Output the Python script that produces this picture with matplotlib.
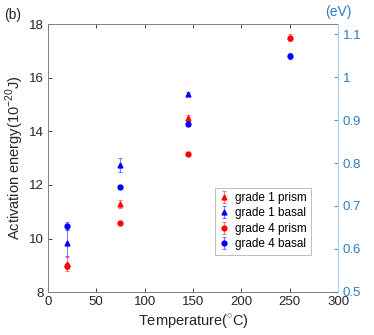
import numpy as np
from matplotlib import pyplot as plt

### DATA
temps_g1 = [20, 75, 145]
temps_g4 = [20, 75, 145, 250]

g1_prism = [9.05, 11.3, 14.5]
g1_prism_err = [0.25, 0.15, 0.1]
g1_basal = [9.85, 12.75, 15.4]
g1_basal_err = [0.5, 0.25, 0.08]
g4_prism = [8.97, 10.58, 13.15, 17.5]
g4_prism_err = [0.1, 0.05, 0.03, 0.12]
g4_basal = [10.48, 11.93, 14.28, 16.8]
g4_basal_err = [0.15, 0.08, 0.1, 0.12]

J_PER_EV = 16.02  # 1 eV in units of 1e-20 J

### PLOT
plt.rcParams['font.family'] = ['Liberation Sans', 'DejaVu Sans']
plt.rcParams['mathtext.fontset'] = 'custom'
plt.rcParams['mathtext.rm'] = 'Liberation Sans'

fig = plt.figure(figsize = (3.74, 3.35), dpi = 100)
ax = fig.add_axes([0.128, 0.128, 0.776, 0.80])

kw = dict(linestyle = "none", markersize = 3.5, capsize = 1.5, elinewidth = 0.8, capthick = 0.8)
series = [
    (temps_g1, g1_prism, g1_prism_err, "red", "^", "grade 1 prism"),
    (temps_g1, g1_basal, g1_basal_err, "blue", "^", "grade 1 basal"),
    (temps_g4, g4_prism, g4_prism_err, "red", "o", "grade 4 prism"),
    (temps_g4, g4_basal, g4_basal_err, "blue", "o", "grade 4 basal"),
]
for x, y, e, c, m, lab in series:
    eb = ax.errorbar(x, y, yerr = e, color = c, marker = m, label = lab, **kw)
    for part in eb[1] + eb[2]:
        part.set_alpha(0.5)

ax.set_xlim(0, 300)
ax.set_ylim(8, 18)
ax.set_xticks(range(0, 301, 50))
ax.set_yticks(range(8, 19, 2))
ax.tick_params(direction = "in", labelsize = 9.5, length = 3, width = 0.6,
               colors = "#262626", top = True, pad = 3)
for s in ["left", "bottom", "top"]:
    ax.spines[s].set_color("#808080")
    ax.spines[s].set_linewidth(0.7)
ax.spines["right"].set_visible(False)

ax.set_xlabel(r"Temperature($^{\circ}$C)", fontsize = 10.5, color = "#262626", labelpad = 3)
ax.set_ylabel(r"Activation energy(10$^{-20}$J)", fontsize = 10.5, color = "#262626", labelpad = 2)

leg = ax.legend(loc = "lower left", bbox_to_anchor = (0.575, 0.14), fontsize = 8.5,
                frameon = True, fancybox = False, handlelength = 0.8, handletextpad = 0.6,
                borderpad = 0.35, labelspacing = 0.3, borderaxespad = 0)
leg.get_frame().set_edgecolor("#a0a0a0")
leg.get_frame().set_linewidth(0.6)

# right axis in eV
blue = "#2b7cc4"
ax2 = ax.twinx()
ax2.set_ylim(8 / J_PER_EV, 18 / J_PER_EV)
ax2.set_yticks([0.5, 0.6, 0.7, 0.8, 0.9, 1.0, 1.1])
ax2.set_yticklabels(["0.5", "0.6", "0.7", "0.8", "0.9", "1", "1.1"])
ax2.tick_params(direction = "in", labelsize = 9.5, length = 3, width = 0.6, colors = blue)
for s in ["left", "bottom", "top"]:
    ax2.spines[s].set_visible(False)
ax2.spines["right"].set_color("#a6cdee")
ax2.spines["right"].set_linewidth(0.8)
ax2.text(1.0, 1.02, "(eV)", transform = ax2.transAxes, ha = "center", va = "bottom",
         fontsize = 10, color = blue)

fig.text(0.012, 0.955, "(b)", fontsize = 10, color = "#262626", va = "center")

plt.savefig("out.png", dpi = 100)
